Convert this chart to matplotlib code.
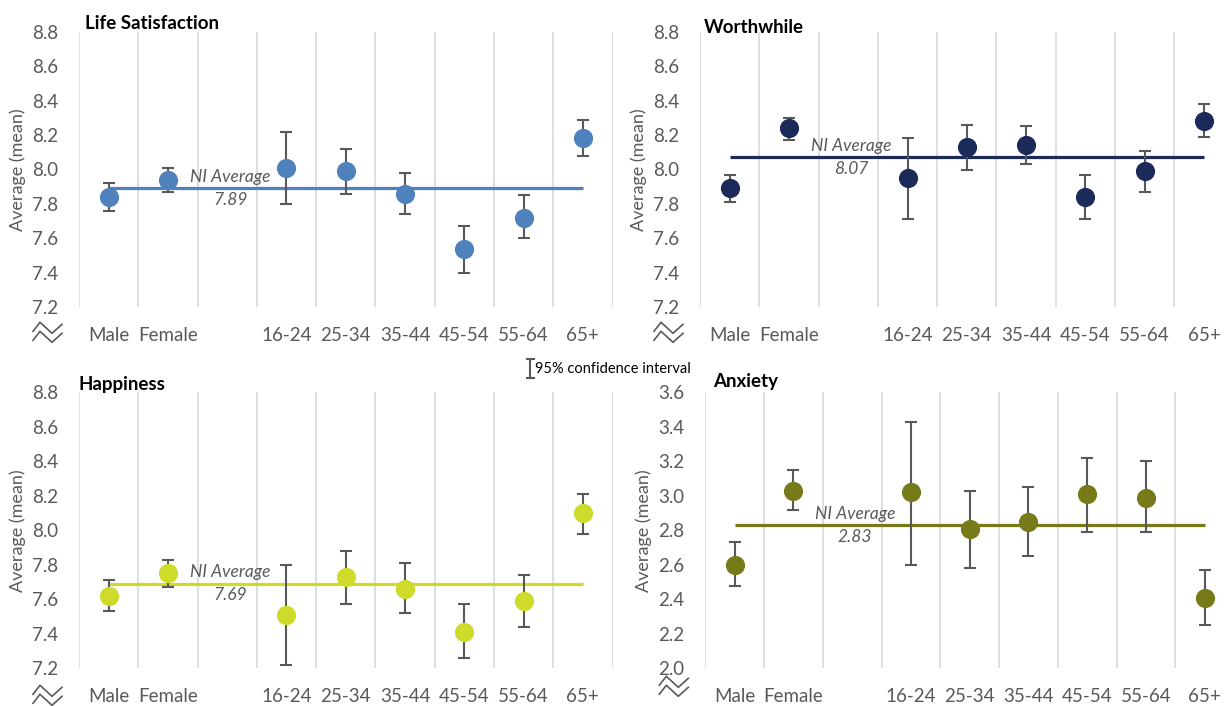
import numpy as np
import matplotlib
matplotlib.use("Agg")
import matplotlib.pyplot as plt
from matplotlib.lines import Line2D
from matplotlib.transforms import ScaledTranslation

plt.rcParams['font.family'] = ['Lato', 'DejaVu Sans']

# ==============================
# DATI (media e intervallo di confidenza 95%)
# ==============================
categories = ["Male", "Female", "", "16-24", "25-34", "35-44", "45-54", "55-64", "65+"]
nan = np.nan

life_mean = [7.84, 7.94, nan, 8.01, 7.99, 7.86, 7.54, 7.72, 8.18]
life_low = [7.76, 7.87, nan, 7.80, 7.86, 7.74, 7.40, 7.60, 8.08]
life_high = [7.92, 8.01, nan, 8.22, 8.12, 7.98, 7.67, 7.85, 8.29]
life_avg = 7.89

worth_mean = [7.89, 8.24, nan, 7.95, 8.13, 8.14, 7.84, 7.99, 8.28]
worth_low = [7.81, 8.17, nan, 7.71, 8.00, 8.03, 7.71, 7.87, 8.19]
worth_high = [7.97, 8.30, nan, 8.18, 8.26, 8.25, 7.97, 8.11, 8.38]
worth_avg = 8.07

happy_mean = [7.62, 7.75, nan, 7.51, 7.73, 7.66, 7.41, 7.59, 8.10]
happy_low = [7.53, 7.67, nan, 7.22, 7.57, 7.52, 7.26, 7.44, 7.98]
happy_high = [7.71, 7.83, nan, 7.80, 7.88, 7.81, 7.57, 7.74, 8.21]
happy_avg = 7.69

anx_mean = [2.60, 3.03, nan, 3.02, 2.81, 2.85, 3.01, 2.99, 2.41]
anx_low = [2.48, 2.92, nan, 2.60, 2.58, 2.65, 2.79, 2.79, 2.25]
anx_high = [2.73, 3.15, nan, 3.43, 3.03, 3.05, 3.22, 3.20, 2.57]
anx_avg = 2.83

# ==============================
# LAYOUT (pixel della figura 1227x706)
# ==============================
W, H = 1227, 706
GRAY = "#595959"

panels = [
    # titolo, media, low, high, avg, colore, box (l, t, r, b), ylim, titolo (x, y), shift simbolo
    ("Life Satisfaction", life_mean, life_low, life_high, life_avg, "#4f81bd",
     (79, 31.7, 612.5, 307.3), (7.2, 8.8), (85, 29), 0),
    ("Worthwhile", worth_mean, worth_low, worth_high, worth_avg, "#1c2a5a",
     (700, 31.7, 1233.6, 307.3), (7.2, 8.8), (704, 33), 0),
    ("Happiness", happy_mean, happy_low, happy_high, happy_avg, "#cfdb2a",
     (79, 392.3, 612.5, 668.3), (7.2, 8.8), (79, 390), 2),
    ("Anxiety", anx_mean, anx_low, anx_high, anx_avg, "#767a18",
     (705.3, 392.3, 1234, 668.3), (2.0, 3.6), (713, 387), -7),
]

fig = plt.figure(figsize=(W / 100, H / 100), dpi=100)
x = np.arange(len(categories))

for title, mean, low, high, avg, color, box, ylim, tpos, bshift in panels:
    l, t, r, b = box
    ax = fig.add_axes([l / W, 1 - b / H, (r - l) / W, (b - t) / H])

    mean = np.array(mean)
    err = [mean - np.array(low), np.array(high) - mean]

    # linea media NI
    ax.hlines(avg, x[0], x[-1], color=color, lw=2.3, zorder=2)
    ax.text(2.05, avg, f"NI Average\n{avg:.2f}", ha="center", va="center",
            style="italic", color=GRAY, fontsize=12.5, linespacing=1.55, zorder=5)

    # barre di errore + punti
    ax.errorbar(x, mean, yerr=err, fmt="none", ecolor=GRAY, elinewidth=1.5,
                capsize=4.5, capthick=1.5, zorder=3)
    ax.plot(x, mean, "o", color=color, markersize=12.8, zorder=4)

    ax.set_xlim(-0.5, len(categories) - 0.5)
    ax.set_ylim(*ylim)
    ax.set_yticks(np.arange(ylim[0], ylim[1] + 0.01, 0.2))
    ax.yaxis.set_major_formatter(plt.FormatStrFormatter("%.1f"))
    ax.set_xticks(x)
    ax.set_xticklabels(categories)
    ax.set_xticks(np.arange(-0.5, len(categories)), minor=True)
    ax.grid(which="minor", axis="x", color="#d9d9d9", lw=1.2)
    ax.grid(which="major", visible=False)
    ax.tick_params(which="both", length=0)
    ax.tick_params(axis="x", pad=14, labelsize=13.5, labelcolor=GRAY)
    ax.tick_params(axis="y", pad=15, labelsize=13.5, labelcolor=GRAY)
    for s in ax.spines.values():
        s.set_visible(False)

    ax.set_ylabel("Average (mean)", fontsize=13, color=GRAY)
    ax.yaxis.set_label_coords(-53 / (r - l), 0.5)

    fig.text(tpos[0] / W, 1 - tpos[1] / H, title, fontsize=13.5,
             fontweight="bold", color="black", va="baseline", ha="left")

    # simbolo interruzione asse
    zx = np.array([-46, -39, -27, -17])
    zy = np.array([-24, -15, -26, -17]) - bshift
    origin = fig.dpi_scale_trans + ScaledTranslation(l / 100, (H - b) / 100, fig.dpi_scale_trans)
    for k in (0, 9):
        ax.add_line(Line2D(zx / 100, (zy - k) / 100, color=GRAY, lw=1.2,
                           clip_on=False, transform=origin))

# ==============================
# LEGENDA (intervallo di confidenza)
# ==============================
lx, ly0, ly1 = 530, 359, 378
fig.add_artist(Line2D([lx / W, lx / W], [1 - ly0 / H, 1 - ly1 / H], color=GRAY, lw=1.5))
for yy in (ly0, ly1):
    fig.add_artist(Line2D([(lx - 3.5) / W, (lx + 3.5) / W], [1 - yy / H, 1 - yy / H],
                          color=GRAY, lw=1.5))
fig.text(535 / W, 1 - 369 / H, "95% confidence interval", fontsize=10.5,
         color="black", va="center", ha="left")

plt.savefig("out.png", dpi=100)
